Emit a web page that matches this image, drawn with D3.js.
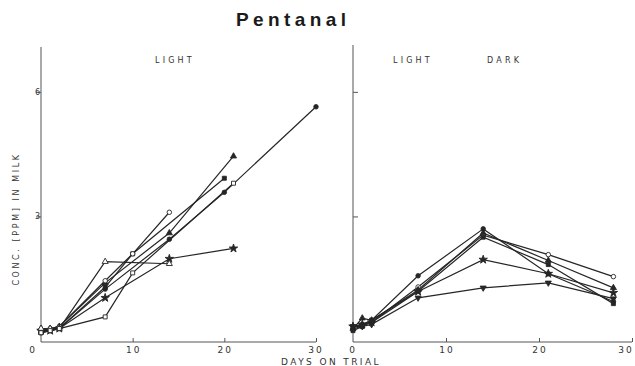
<!DOCTYPE html>
<html>
<head>
<meta charset="utf-8">
<script src="https://cdn.jsdelivr.net/npm/d3@7"></script>
<style>
  body { margin: 0; background: #fff; }
  svg { display: block; }
  text { font-family: "DejaVu Sans", sans-serif; fill: #333; }
</style>
</head>
<body>
<div class="graph"></div>
<script>
/* data: [day, ppm] per animal */
const leftSeries = [
  { mark: 'circle',   open: false, pts: [[0, 0.2], [1, 0.25], [2, 0.3], [7, 1.25], [14, 2.45], [20, 3.58], [30, 5.64]] },
  { mark: 'triangle', open: false, pts: [[0, 0.3], [1, 0.3], [2, 0.35], [7, 1.4], [14, 2.6], [21, 4.45]] },
  { mark: 'square',   open: false, pts: [[0, 0.2], [1, 0.25], [2, 0.3], [7, 1.3], [10, 2.1], [20, 3.92]] },
  { mark: 'circle',   open: true,  pts: [[0, 0.25], [1, 0.3], [2, 0.35], [7, 1.45], [10, 2.1], [14, 3.1]] },
  { mark: 'star',     open: false, pts: [[0, 0.25], [1, 0.25], [2, 0.3], [7, 1.04], [14, 1.98], [21, 2.23]] },
  { mark: 'triangle', open: true,  pts: [[0, 0.3], [1, 0.3], [2, 0.3], [7, 1.91], [14, 1.86]] },
  { mark: 'square',   open: true,  pts: [[0, 0.2], [1, 0.25], [2, 0.3], [7, 0.58], [10, 1.64], [21, 3.8]] }
];

const rightSeries = [
  { mark: 'circle',   open: true,  pts: [[0, 0.3], [1, 0.35], [2, 0.45], [7, 1.3], [14, 2.55], [21, 2.08], [28, 1.55]] },
  { mark: 'circle',   open: false, pts: [[0, 0.35], [1, 0.4], [2, 0.5], [7, 1.57], [14, 2.7], [21, 1.62], [28, 0.95]] },
  { mark: 'triangle', open: false, pts: [[0, 0.3], [1, 0.55], [2, 0.5], [7, 1.23], [14, 2.6], [21, 1.94], [28, 1.28]] },
  { mark: 'star',     open: false, pts: [[0, 0.35], [1, 0.4], [2, 0.45], [7, 1.19], [14, 1.96], [21, 1.62], [28, 1.16]] },
  { mark: 'square',   open: false, pts: [[0, 0.25], [1, 0.35], [2, 0.5], [7, 1.2], [14, 2.5], [21, 1.84], [28, 0.9]] },
  { mark: 'down',     open: false, pts: [[0, 0.35], [1, 0.35], [2, 0.4], [7, 1.04], [14, 1.28], [21, 1.4], [28, 1.02]] }
];

const xTicks = [0, 10, 20, 30];
const yTicks = [3, 6];

const width = 635;
const height = 366;
const ink = '#262626';

// y scale shared by both panels
const y = d3.scaleLinear().domain([0, 7.08]).range([341, 47]);

const svg = d3.select('.graph').append('svg')
  .attr('width', width)
  .attr('height', height);

// title
svg.append('text')
  .attr('x', 236).attr('y', 26)
  .style('font-family', '"Liberation Sans", Arial, sans-serif')
  .style('font-weight', 'bold')
  .style('font-size', '19px')
  .style('letter-spacing', '4.4px')
  .style('fill', '#1a1a1a')
  .text('Pentanal');

const symbolType = {
  circle: d3.symbolCircle,
  triangle: d3.symbolTriangle,
  square: d3.symbolSquare,
  star: d3.symbolStar,
  down: d3.symbolTriangle
};

const drawPanel = (x0, x1, series, opts) => {
  const x = d3.scaleLinear().domain([0, 30]).range([x0, x1]);
  const g = svg.append('g');

  // axes
  const xAxis = d3.axisBottom(x).tickValues(xTicks.slice(1)).tickSize(-4).tickFormat('');
  g.append('g').attr('transform', `translate(0, 342)`).call(xAxis)
    .call(a => a.select('.domain').attr('d', `M${x0},0H${x1}`));

  const yAxis = (opts.tickLeft ? d3.axisLeft(y) : d3.axisRight(y))
    .tickValues(yTicks).tickSize(5).tickFormat('');
  g.append('g').attr('transform', `translate(${x0}, 0)`).call(yAxis)
    .call(a => a.select('.domain').attr('d', `M0,${opts.top}V342`));

  g.selectAll('.domain, .tick line')
    .attr('stroke', '#555')
    .attr('stroke-width', 1);

  // tick labels
  g.selectAll('.xlab')
    .data(xTicks)
    .join('text')
    .attr('x', d => d === 0 ? x(d) + opts.zeroShift : (d === 30 ? x(d) + opts.lastShift : x(d) + 1))
    .attr('y', 353)
    .attr('text-anchor', 'middle')
    .style('font-size', '9px')
    .style('letter-spacing', '2px')
    .text(d => d);

  if (opts.tickLeft) {
    g.selectAll('.ylab')
      .data(yTicks)
      .join('text')
      .attr('x', x0 - 6)
      .attr('y', d => y(d) + 3)
      .style('font-size', '8px')
      .text(d => d);
  }

  // lines
  const line = d3.line().x(d => x(d[0])).y(d => y(d[1]));
  g.selectAll('.series')
    .data(series)
    .join('path')
    .attr('d', d => line(d.pts))
    .attr('fill', 'none')
    .attr('stroke', ink)
    .attr('stroke-width', 1.2);

  // markers
  series.forEach(s => {
    g.selectAll(null)
      .data(s.pts)
      .join('path')
      .attr('d', d3.symbol().type(symbolType[s.mark]).size(s.mark === 'star' ? 22 : 16))
      .attr('transform', d => `translate(${x(d[0])},${y(d[1])})${s.mark === 'down' ? ' rotate(180)' : ''}`)
      .attr('fill', s.open ? '#fff' : ink)
      .attr('stroke', ink)
      .attr('stroke-width', 0.9);
  });
};

drawPanel(41, 316, leftSeries, { tickLeft: true, top: 47, zeroShift: -8, lastShift: 0 });
drawPanel(353, 632, rightSeries, { tickLeft: false, top: 45, zeroShift: 0, lastShift: -6 });

// panel labels
const smallLabel = (txt, xx, yy) => svg.append('text')
  .attr('x', xx).attr('y', yy)
  .style('font-size', '8px')
  .style('letter-spacing', '3.2px')
  .text(txt);

smallLabel('LIGHT', 155, 63);
smallLabel('LIGHT', 393, 63);
smallLabel('DARK', 487, 63);

// axis titles
svg.append('text')
  .attr('transform', 'translate(19, 219) rotate(-90)')
  .attr('text-anchor', 'middle')
  .style('font-size', '8px')
  .style('letter-spacing', '2.6px')
  .text('CONC. [PPM] IN MILK');

svg.append('text')
  .attr('x', 331).attr('y', 365)
  .attr('text-anchor', 'middle')
  .style('font-size', '9px')
  .style('letter-spacing', '2.4px')
  .text('DAYS ON TRIAL');
</script>
</body>
</html>
